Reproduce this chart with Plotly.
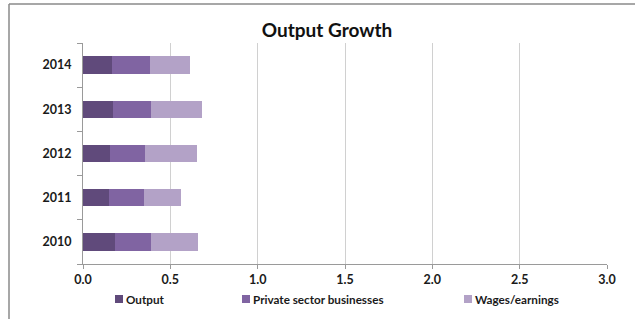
import plotly.graph_objects as go

years = ["2010", "2011", "2012", "2013", "2014"]
output = [0.185, 0.151, 0.153, 0.170, 0.166]
private_sector = [0.203, 0.198, 0.204, 0.218, 0.218]
wages = [0.270, 0.214, 0.294, 0.291, 0.228]
x_ticks = [0.0, 0.5, 1.0, 1.5, 2.0, 2.5, 3.0]
x_tick_text = ["0.0", "0.5", "1.0", "1.5", "2.0", "2.5", "3.0"]
series_names = ["Output", "Private sector businesses", "Wages/earnings"]
series_colors = ["#604a7b", "#8064a2", "#b3a2c7"]

FONT = "Lato"
W, H = 635, 319
L, R, T, B = 83, 28, 43, 55
PW, PH = W - L - R, H - T - B


def px_x(p):
    return (p - L) / PW


def px_y(p):
    return (H - B - p) / PH


fig = go.Figure()
for name, vals, col in zip(series_names, [output, private_sector, wages], series_colors):
    fig.add_trace(go.Bar(y=years, x=vals, name=name, orientation="h",
                         marker=dict(color=col, line=dict(width=0)), width=0.39,
                         showlegend=False))

# manual legend (Excel style: small square right next to label)
legend_square_x = [115, 242, 464]
shapes = []
annotations = []
for name, col, sx in zip(series_names, series_colors, legend_square_x):
    shapes.append(dict(type="rect", xref="paper", yref="paper",
                       x0=px_x(sx), x1=px_x(sx + 8), y0=px_y(303), y1=px_y(295),
                       fillcolor=col, line=dict(width=0)))
    annotations.append(dict(text="<b>" + name + "</b>", xref="paper", yref="paper",
                            x=px_x(sx + 9), y=px_y(299), xanchor="left", yanchor="middle",
                            showarrow=False, font=dict(size=11.7, family=FONT, color="#1a1a1a")))

# chart frame (top and left borders visible)
shapes.append(dict(type="line", xref="paper", yref="paper", x0=px_x(9), x1=px_x(640),
                   y0=px_y(4), y1=px_y(4), line=dict(color="#8a8a8a", width=1.5)))
shapes.append(dict(type="line", xref="paper", yref="paper", x0=px_x(9), x1=px_x(9),
                   y0=px_y(4), y1=px_y(330), line=dict(color="#8a8a8a", width=1.5)))

fig.update_layout(
    barmode="stack",
    width=W, height=H,
    margin=dict(l=L, r=R, t=T, b=B, autoexpand=False),
    paper_bgcolor="white", plot_bgcolor="white",
    font=dict(family=FONT, color="#1a1a1a"),
    title=dict(text="<b>Output Growth</b>", x=0.515, xanchor="center",
               y=0.905, yanchor="middle", font=dict(size=19, family=FONT, color="#111")),
    xaxis=dict(range=[0, 3.0], tickvals=x_ticks, ticktext=["<b>" + t + "</b>" for t in x_tick_text],
               showgrid=True, gridcolor="#d0d0d0", gridwidth=1,
               showline=True, linecolor="#9a9a9a", linewidth=1,
               ticks="outside", ticklen=4, tickcolor="#9a9a9a",
               tickfont=dict(size=12.5, family=FONT, color="#1a1a1a"),
               zeroline=False, fixedrange=True),
    yaxis=dict(categoryorder="array", categoryarray=years,
               tickvals=years, ticktext=["<b>" + y + "</b>" for y in years],
               showline=True, linecolor="#9a9a9a", linewidth=1,
               ticks="outside", ticklen=5, tickcolor="#9a9a9a", tickson="boundaries",
               tickfont=dict(size=12.5, family=FONT, color="#1a1a1a"),
               ticklabelstandoff=8, showgrid=False, fixedrange=True),
    showlegend=False,
    shapes=shapes,
    annotations=annotations,
)

fig.write_html("out.html", config={"displayModeBar": False},
               post_script="document.body.style.margin='0';")
